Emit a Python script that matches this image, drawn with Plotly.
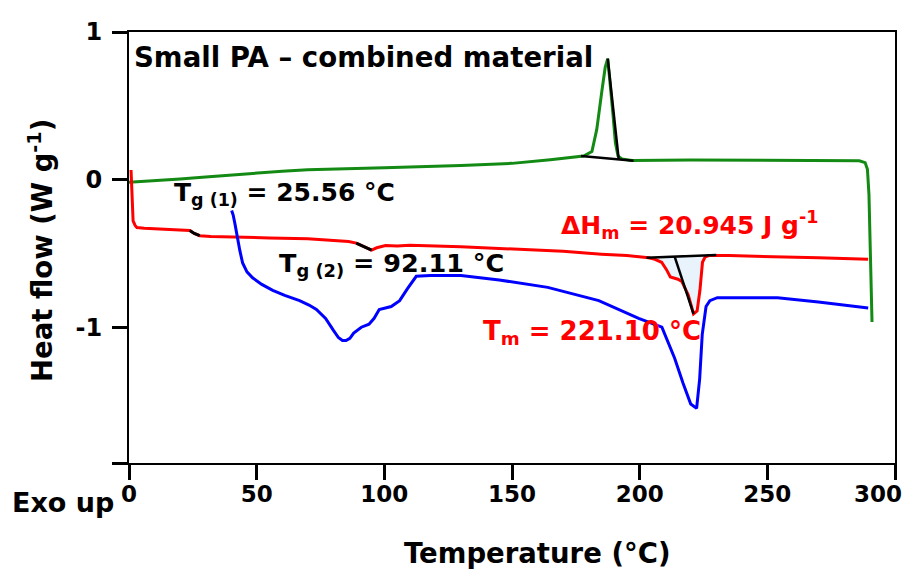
import numpy as np
import plotly.graph_objects as go

# ---- DSC traces: temperature (°C) vs heat flow (W/g), exo up ----
green_T = [0, 10, 20, 30, 40, 50, 60, 70, 80, 100, 130, 150, 165, 175, 178, 181.3,
           183.2, 185.2, 186.5, 187.5, 188.5, 189.5, 190.5, 191.5, 193, 197, 220,
           250, 280, 286, 288.3, 289.2, 289.8, 290.4, 291]
green_Y = [-0.018, -0.008, 0.004, 0.018, 0.032, 0.045, 0.057, 0.066, 0.072, 0.08,
           0.095, 0.11, 0.135, 0.155, 0.16, 0.19, 0.34, 0.60, 0.76, 0.82, 0.65,
           0.45, 0.25, 0.16, 0.14, 0.13, 0.133, 0.133, 0.131, 0.128, 0.115, 0.07,
           -0.1, -0.5, -0.965]

red_T = [0.8, 1.2, 1.6, 2.4, 3.1, 6, 12, 18, 23.8, 25.56, 27.7, 32, 40, 55, 70,
         80, 86, 89, 92.11, 95, 97, 100.5, 105, 110, 130, 150, 170, 185, 195,
         203.5, 206, 208.6, 210.5, 212, 215, 216.5, 219, 221.1, 222.5, 223.6,
         224.6, 225.6, 227, 235, 250, 270, 289.5]
red_Y = [0.065, -0.12, -0.28, -0.31, -0.325, -0.33, -0.335, -0.34, -0.345, -0.365,
         -0.38, -0.385, -0.39, -0.395, -0.40, -0.41, -0.42, -0.43, -0.455, -0.477,
         -0.462, -0.447, -0.45, -0.445, -0.455, -0.47, -0.485, -0.505, -0.515,
         -0.53, -0.54, -0.56, -0.61, -0.66, -0.675, -0.69, -0.78, -0.91, -0.89,
         -0.75, -0.56, -0.525, -0.515, -0.515, -0.52, -0.53, -0.54]

blue_T = [40.2, 40.8, 41.5, 42.2, 43.4, 44.5, 46.2, 48.4, 52, 56.3, 61, 66.8, 70.5,
          73.4, 77, 80, 82, 83.6, 85, 86.5, 88, 91, 94, 96, 98, 102.7, 106, 109,
          112.5, 118, 130, 145, 164, 184, 199.6, 208.7, 213.7, 217, 220, 222.3,
          223.5, 224.5, 226, 227.5, 230.4, 240, 254, 270, 289.5]
blue_Y = [-0.21, -0.24, -0.30, -0.37, -0.48, -0.565, -0.625, -0.665, -0.71, -0.75,
          -0.785, -0.82, -0.85, -0.88, -0.94, -1.02, -1.07, -1.09, -1.09, -1.075,
          -1.04, -1.0, -0.98, -0.94, -0.88, -0.86, -0.82, -0.74, -0.655, -0.65,
          -0.65, -0.68, -0.73, -0.82, -0.94, -1.0, -1.21, -1.38, -1.52, -1.55,
          -1.35, -1.05, -0.86, -0.82, -0.80, -0.80, -0.80, -0.83, -0.87]

# ---- thermal analysis results ----
TG1 = 25.56
TG2 = 92.11
TM = 221.10
DHM = 20.945

# crystallisation peak (green) integration baseline and peak line
cryst_base_T = [177.0, 197.6]
cryst_base_Y = [0.16, 0.128]
cryst_peak_T = 187.5
cryst_peak_Y = 0.82
cryst_drop_T = 191.8

# melting (red) integration baseline
melt_base_T = [202.7, 230.0]
melt_base_Y = [-0.53, -0.51]
melt_drop_T = 213.7

# axis ticks
x_ticks = [0, 50, 100, 150, 200, 250, 300]
x_ticklabels = ["0", "50", "100", "150", "200", "250", ""]
Y_MIN = -1.92
y_ticks = [1, 0, -1, Y_MIN]
y_ticklabels = ["1", "0", "-1", ""]

GREEN = "#138a13"
RED = "#ff0000"
BLUE = "#0000ff"
FILL = "#e8f3fc"
FONT = "DejaVu Sans"

red_T_arr = np.array(red_T)
red_Y_arr = np.array(red_Y)

fig = go.Figure()

# shaded melting enthalpy area between red curve and its baseline
m = (red_T_arr >= melt_base_T[0] + 0.8) & (red_T_arr <= 225.6)
fill_T = list(red_T_arr[m]) + [225.6, red_T_arr[m][0]]
fill_Y = list(red_Y_arr[m]) + list(np.interp([225.6, red_T_arr[m][0]], melt_base_T, melt_base_Y))
fig.add_trace(go.Scatter(x=fill_T, y=fill_Y, fill="toself", fillcolor=FILL,
                         line=dict(width=0), mode="lines", hoverinfo="skip"))

line_w = 3
fig.add_trace(go.Scatter(x=green_T, y=green_Y, mode="lines",
                         line=dict(color=GREEN, width=line_w)))
fig.add_trace(go.Scatter(x=red_T, y=red_Y, mode="lines",
                         line=dict(color=RED, width=line_w)))
fig.add_trace(go.Scatter(x=blue_T, y=blue_Y, mode="lines",
                         line=dict(color=BLUE, width=line_w)))

# glass transition marks on the red curve
for lo, hi in [(23.8, 27.7), (89, 95)]:
    k = (red_T_arr >= lo) & (red_T_arr <= hi)
    fig.add_trace(go.Scatter(x=red_T_arr[k], y=red_Y_arr[k], mode="lines",
                             line=dict(color="black", width=line_w)))

# crystallisation baseline + peak line
fig.add_trace(go.Scatter(x=cryst_base_T, y=cryst_base_Y, mode="lines",
                         line=dict(color="black", width=2.5)))
fig.add_trace(go.Scatter(
    x=[cryst_peak_T, cryst_drop_T],
    y=[cryst_peak_Y, float(np.interp(cryst_drop_T, cryst_base_T, cryst_base_Y))],
    mode="lines", line=dict(color="black", width=2.5)))

# melting baseline + peak line
fig.add_trace(go.Scatter(x=melt_base_T, y=melt_base_Y, mode="lines",
                         line=dict(color="black", width=2.5)))
tm_y = float(np.interp(TM, red_T, red_Y))
fig.add_trace(go.Scatter(
    x=[melt_drop_T, TM],
    y=[float(np.interp(melt_drop_T, melt_base_T, melt_base_Y)), tm_y],
    mode="lines", line=dict(color="black", width=2.5)))

bold = dict(family=FONT, weight="bold")

annotations = [
    dict(text="Small PA \u2013 combined material", xref="paper", yref="paper",
         x=0.004, y=0.9397, xanchor="left", yanchor="middle",
         font=dict(**bold, size=27.6, color="black")),
    dict(text=f"T<sub>g (1)</sub> = {TG1:.2f} °C", x=17.0, y=-0.10,
         xanchor="left", yanchor="middle", font=dict(**bold, size=25, color="black")),
    dict(text=f"T<sub>g (2)</sub> = {TG2:.2f} °C", x=57.8, y=-0.575,
         xanchor="left", yanchor="middle", font=dict(**bold, size=25.5, color="black")),
    dict(text=f"\u0394H<sub>m</sub> = {DHM:.3f} J g<sup>-1</sup>", x=168.4, y=-0.31,
         xanchor="left", yanchor="middle", font=dict(**bold, size=25, color=RED)),
    dict(text=f"T<sub>m</sub> = {TM:.2f} °C", x=137.8, y=-1.035,
         xanchor="left", yanchor="middle", font=dict(**bold, size=26, color=RED)),
    dict(text="300", xref="paper", yref="paper", x=0.978, y=-0.072,
         xanchor="center", yanchor="middle", font=dict(**bold, size=23, color="black")),
    dict(text="Exo up", xref="paper", yref="paper", x=-0.155, y=-0.0905,
         xanchor="left", yanchor="middle", font=dict(**bold, size=27, color="black")),
    dict(text="Temperature (°C)", xref="paper", yref="paper", x=0.5326, y=-0.2088,
         xanchor="center", yanchor="middle", font=dict(**bold, size=27.5, color="black")),
    dict(text="Heat flow (W g<sup>-1</sup>)", xref="paper", yref="paper", x=-0.115,
         y=0.494, xanchor="center", yanchor="middle", textangle=-90,
         font=dict(**bold, size=27.5, color="black")),
]
for a in annotations:
    a["showarrow"] = False
    fig.add_annotation(**a)

axis_common = dict(showline=True, linewidth=2, linecolor="black", mirror=True,
                   ticks="outside", ticklen=15, tickwidth=2.5, tickcolor="black",
                   showgrid=False, zeroline=False)
fig.update_xaxes(range=[0, 300], tickvals=x_ticks, ticktext=x_ticklabels,
                 ticklabelstandoff=-6,
                 tickfont=dict(**bold, size=23, color="black"), **axis_common)
fig.update_yaxes(range=[Y_MIN, 1], tickvals=y_ticks, ticktext=y_ticklabels,
                 ticklabelstandoff=5,
                 tickfont=dict(**bold, size=24, color="black"), **axis_common)

fig.update_layout(width=907, height=570, margin=dict(l=129, r=10, t=32, b=107),
                  plot_bgcolor="white", paper_bgcolor="white", showlegend=False)

fig.write_html("out.html")
